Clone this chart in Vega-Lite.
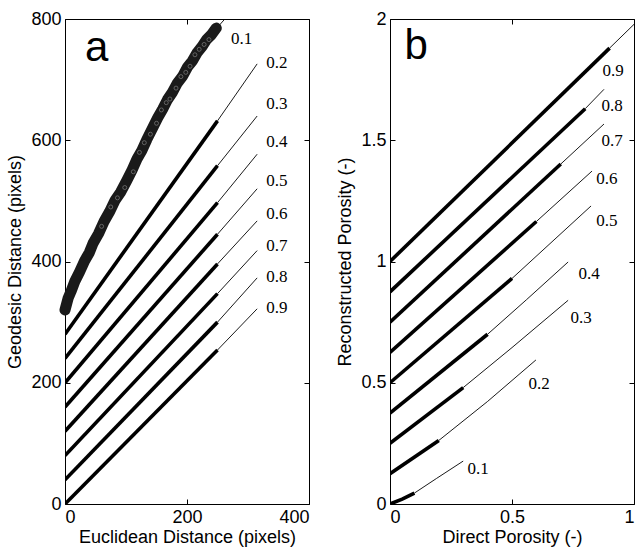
{
  "$schema": "https://vega.github.io/schema/vega-lite/v6.json",
  "padding": {"left": 6, "top": 9, "right": 0, "bottom": 0},
  "background": "white",
  "spacing": 26,
  "config": {
    "view": {"stroke": "black", "strokeWidth": 1},
    "axis": {
      "labelFont": "Liberation Sans", "titleFont": "Liberation Sans",
      "labelFontSize": 18, "titleFontSize": 18, "labelColor": "black", "titleColor": "black",
      "titleFontWeight": "normal", "grid": false, "domain": false,
      "tickColor": "black", "tickSize": -5, "labelPadding": 9
    }
  },
  "datasets": {
    "a_lines": [
      {"p": "0.2", "k": "thick", "x": 0, "y": 280}, {"p": "0.2", "k": "thick", "x": 250, "y": 632},
      {"p": "0.2", "k": "thin", "x": 250, "y": 632}, {"p": "0.2", "k": "thin", "x": 315, "y": 726},
      {"p": "0.3", "k": "thick", "x": 0, "y": 240}, {"p": "0.3", "k": "thick", "x": 250, "y": 558},
      {"p": "0.3", "k": "thin", "x": 250, "y": 558}, {"p": "0.3", "k": "thin", "x": 315, "y": 640},
      {"p": "0.4", "k": "thick", "x": 0, "y": 200}, {"p": "0.4", "k": "thick", "x": 250, "y": 497},
      {"p": "0.4", "k": "thin", "x": 250, "y": 497}, {"p": "0.4", "k": "thin", "x": 315, "y": 577},
      {"p": "0.5", "k": "thick", "x": 0, "y": 160}, {"p": "0.5", "k": "thick", "x": 250, "y": 445},
      {"p": "0.5", "k": "thin", "x": 250, "y": 445}, {"p": "0.5", "k": "thin", "x": 315, "y": 520},
      {"p": "0.6", "k": "thick", "x": 0, "y": 120}, {"p": "0.6", "k": "thick", "x": 250, "y": 396},
      {"p": "0.6", "k": "thin", "x": 250, "y": 396}, {"p": "0.6", "k": "thin", "x": 315, "y": 467},
      {"p": "0.7", "k": "thick", "x": 0, "y": 80}, {"p": "0.7", "k": "thick", "x": 250, "y": 347},
      {"p": "0.7", "k": "thin", "x": 250, "y": 347}, {"p": "0.7", "k": "thin", "x": 315, "y": 418},
      {"p": "0.8", "k": "thick", "x": 0, "y": 40}, {"p": "0.8", "k": "thick", "x": 250, "y": 300},
      {"p": "0.8", "k": "thin", "x": 250, "y": 300}, {"p": "0.8", "k": "thin", "x": 315, "y": 373},
      {"p": "0.9", "k": "thick", "x": 0, "y": 0}, {"p": "0.9", "k": "thick", "x": 250, "y": 254},
      {"p": "0.9", "k": "thin", "x": 250, "y": 254}, {"p": "0.9", "k": "thin", "x": 315, "y": 322},
      {"p": "0.1", "k": "thin", "x": 248, "y": 784}, {"p": "0.1", "k": "thin", "x": 262, "y": 800}
    ],
    "a_band": [
      {"x": 0, "y": 320}, {"x": 5, "y": 339}, {"x": 10, "y": 351}, {"x": 16, "y": 367}, {"x": 24, "y": 383},
      {"x": 32, "y": 401}, {"x": 40, "y": 415}, {"x": 46, "y": 430}, {"x": 55, "y": 446}, {"x": 64, "y": 466},
      {"x": 73, "y": 482}, {"x": 82, "y": 501}, {"x": 91, "y": 514}, {"x": 101, "y": 533}, {"x": 110, "y": 551},
      {"x": 118, "y": 569}, {"x": 126, "y": 583}, {"x": 134, "y": 601}, {"x": 144, "y": 621}, {"x": 152, "y": 637},
      {"x": 160, "y": 651}, {"x": 168, "y": 667}, {"x": 176, "y": 679}, {"x": 184, "y": 694}, {"x": 193, "y": 706},
      {"x": 201, "y": 721}, {"x": 209, "y": 731}, {"x": 217, "y": 745}, {"x": 225, "y": 755}, {"x": 232, "y": 766},
      {"x": 240, "y": 774}, {"x": 248, "y": 785}
    ],
    "a_speck": [
      {"x": 60, "y": 458}, {"x": 98, "y": 522}, {"x": 122, "y": 580}, {"x": 140, "y": 610}, {"x": 158, "y": 650},
      {"x": 172, "y": 668}, {"x": 190, "y": 705}, {"x": 205, "y": 722}, {"x": 220, "y": 750}, {"x": 236, "y": 766},
      {"x": 112, "y": 548}, {"x": 182, "y": 686}, {"x": 130, "y": 596}, {"x": 150, "y": 628}, {"x": 166, "y": 662},
      {"x": 198, "y": 712}, {"x": 213, "y": 741}, {"x": 228, "y": 758}, {"x": 86, "y": 505}, {"x": 75, "y": 490}
    ],
    "a_labels": [
      {"t": "0.1", "x": 272, "y": 767}, {"t": "0.2", "x": 330, "y": 728}, {"t": "0.3", "x": 330, "y": 660},
      {"t": "0.4", "x": 330, "y": 597}, {"t": "0.5", "x": 330, "y": 533}, {"t": "0.6", "x": 330, "y": 479},
      {"t": "0.7", "x": 330, "y": 426}, {"t": "0.8", "x": 330, "y": 375}, {"t": "0.9", "x": 330, "y": 323}
    ],
    "b_lines": [
      {"p": "0.1", "k": "thick", "x": 0, "y": 0}, {"p": "0.1", "k": "thick", "x": 0.05, "y": 0.02}, {"p": "0.1", "k": "thick", "x": 0.1, "y": 0.045},
      {"p": "0.1", "k": "thin", "x": 0.1, "y": 0.045}, {"p": "0.1", "k": "thin", "x": 0.19, "y": 0.105}, {"p": "0.1", "k": "thin", "x": 0.3, "y": 0.177},
      {"p": "0.2", "k": "thick", "x": 0, "y": 0.125}, {"p": "0.2", "k": "thick", "x": 0.2, "y": 0.262},
      {"p": "0.2", "k": "thin", "x": 0.2, "y": 0.262}, {"p": "0.2", "k": "thin", "x": 0.4, "y": 0.423}, {"p": "0.2", "k": "thin", "x": 0.598, "y": 0.594},
      {"p": "0.3", "k": "thick", "x": 0, "y": 0.25}, {"p": "0.3", "k": "thick", "x": 0.3, "y": 0.48},
      {"p": "0.3", "k": "thin", "x": 0.3, "y": 0.48}, {"p": "0.3", "k": "thin", "x": 0.5, "y": 0.645}, {"p": "0.3", "k": "thin", "x": 0.73, "y": 0.84},
      {"p": "0.4", "k": "thick", "x": 0, "y": 0.375}, {"p": "0.4", "k": "thick", "x": 0.4, "y": 0.7},
      {"p": "0.4", "k": "thin", "x": 0.4, "y": 0.7}, {"p": "0.4", "k": "thin", "x": 0.56, "y": 0.843}, {"p": "0.4", "k": "thin", "x": 0.73, "y": 0.998},
      {"p": "0.5", "k": "thick", "x": 0, "y": 0.5}, {"p": "0.5", "k": "thick", "x": 0.5, "y": 0.93},
      {"p": "0.5", "k": "thin", "x": 0.5, "y": 0.93}, {"p": "0.5", "k": "thin", "x": 0.824, "y": 1.229},
      {"p": "0.6", "k": "thick", "x": 0, "y": 0.625}, {"p": "0.6", "k": "thick", "x": 0.6, "y": 1.165},
      {"p": "0.6", "k": "thin", "x": 0.6, "y": 1.165}, {"p": "0.6", "k": "thin", "x": 0.828, "y": 1.373},
      {"p": "0.7", "k": "thick", "x": 0, "y": 0.75}, {"p": "0.7", "k": "thick", "x": 0.7, "y": 1.402},
      {"p": "0.7", "k": "thin", "x": 0.7, "y": 1.402}, {"p": "0.7", "k": "thin", "x": 0.877, "y": 1.567},
      {"p": "0.8", "k": "thick", "x": 0, "y": 0.875}, {"p": "0.8", "k": "thick", "x": 0.8, "y": 1.63},
      {"p": "0.8", "k": "thin", "x": 0.8, "y": 1.63}, {"p": "0.8", "k": "thin", "x": 0.877, "y": 1.71},
      {"p": "0.9", "k": "thick", "x": 0, "y": 1.0}, {"p": "0.9", "k": "thick", "x": 0.9, "y": 1.88},
      {"p": "0.9", "k": "thin", "x": 0.9, "y": 1.88}, {"p": "0.9", "k": "thin", "x": 1.0, "y": 1.978}
    ],
    "b_labels": [
      {"t": "0.9", "x": 0.914, "y": 1.786}, {"t": "0.8", "x": 0.91, "y": 1.64}, {"t": "0.7", "x": 0.91, "y": 1.497},
      {"t": "0.6", "x": 0.889, "y": 1.34}, {"t": "0.5", "x": 0.889, "y": 1.167}, {"t": "0.4", "x": 0.816, "y": 0.948},
      {"t": "0.3", "x": 0.783, "y": 0.767}, {"t": "0.2", "x": 0.611, "y": 0.495}, {"t": "0.1", "x": 0.361, "y": 0.144}
    ]
  },
  "hconcat": [
    {
      "width": 244, "height": 485,
      "resolve": {"axis": {"x": "independent", "y": "independent"}},
      "layer": [
        {
          "data": {"name": "a_lines"},
          "mark": {"type": "line", "color": "black", "clip": true},
          "encoding": {
            "x": {"field": "x", "type": "quantitative", "scale": {"domain": [0, 400], "nice": false, "zero": false},
                  "axis": {"orient": "bottom", "values": [0, 200, 400], "title": "Euclidean Distance (pixels)", "titlePadding": 2}},
            "y": {"field": "y", "type": "quantitative", "scale": {"domain": [0, 800], "nice": false, "zero": false},
                  "axis": {"orient": "left", "values": [0, 200, 400, 600, 800], "title": "Geodesic Distance (pixels)", "titlePadding": 6}},
            "detail": [{"field": "p"}, {"field": "k"}],
            "strokeWidth": {"field": "k", "type": "nominal", "scale": {"domain": ["thick", "thin"], "range": [3.6, 0.9]}, "legend": null}
          }
        },
        {
          "data": {"name": "a_band"},
          "mark": {"type": "line", "color": "#1a1a1a", "strokeWidth": 11, "strokeCap": "round", "strokeJoin": "round"},
          "encoding": {
            "x": {"field": "x", "type": "quantitative", "axis": null},
            "y": {"field": "y", "type": "quantitative", "axis": null}
          }
        },
        {
          "data": {"name": "a_speck"},
          "mark": {"type": "point", "shape": "circle", "filled": false, "color": "#999", "size": 16, "strokeWidth": 0.8},
          "encoding": {
            "x": {"field": "x", "type": "quantitative", "axis": null},
            "y": {"field": "y", "type": "quantitative", "axis": null}
          }
        },
        {
          "data": {"name": "a_labels"},
          "mark": {"type": "text", "font": "Liberation Serif", "fontSize": 17, "align": "left", "baseline": "middle", "color": "black"},
          "encoding": {
            "x": {"field": "x", "type": "quantitative", "axis": {"orient": "top", "values": [0, 200, 400], "labels": false, "title": null}},
            "y": {"field": "y", "type": "quantitative", "axis": {"orient": "right", "values": [0, 200, 400, 600, 800], "labels": false, "title": null}},
            "text": {"field": "t"}
          }
        },
        {
          "data": {"values": [{"t": "a", "x": 52, "y": 752}]},
          "mark": {"type": "text", "font": "Liberation Sans", "fontSize": 42, "align": "center", "baseline": "middle", "color": "black"},
          "encoding": {
            "x": {"field": "x", "type": "quantitative", "axis": null},
            "y": {"field": "y", "type": "quantitative", "axis": null},
            "text": {"field": "t"}
          }
        }
      ]
    },
    {
      "width": 244, "height": 485,
      "resolve": {"axis": {"x": "independent", "y": "independent"}},
      "layer": [
        {
          "data": {"name": "b_lines"},
          "mark": {"type": "line", "color": "black", "clip": true},
          "encoding": {
            "x": {"field": "x", "type": "quantitative", "scale": {"domain": [0, 1], "nice": false, "zero": false},
                  "axis": {"orient": "bottom", "values": [0, 0.5, 1], "format": "~g", "title": "Direct Porosity (-)", "titlePadding": 2}},
            "y": {"field": "y", "type": "quantitative", "scale": {"domain": [0, 2], "nice": false, "zero": false},
                  "axis": {"orient": "left", "values": [0, 0.5, 1, 1.5, 2], "format": "~g", "title": "Reconstructed Porosity (-)", "titlePadding": 6}},
            "detail": [{"field": "p"}, {"field": "k"}],
            "strokeWidth": {"field": "k", "type": "nominal", "scale": {"domain": ["thick", "thin"], "range": [3.6, 0.9]}, "legend": null}
          }
        },
        {
          "data": {"name": "b_labels"},
          "mark": {"type": "text", "font": "Liberation Serif", "fontSize": 17, "align": "center", "baseline": "middle", "color": "black"},
          "encoding": {
            "x": {"field": "x", "type": "quantitative", "axis": {"orient": "top", "values": [0, 0.5, 1], "labels": false, "title": null}},
            "y": {"field": "y", "type": "quantitative", "axis": {"orient": "right", "values": [0, 0.5, 1, 1.5, 2], "labels": false, "title": null}},
            "text": {"field": "t"}
          }
        },
        {
          "data": {"values": [{"t": "b", "x": 0.107, "y": 1.89}]},
          "mark": {"type": "text", "font": "Liberation Sans", "fontSize": 42, "align": "center", "baseline": "middle", "color": "black"},
          "encoding": {
            "x": {"field": "x", "type": "quantitative", "axis": null},
            "y": {"field": "y", "type": "quantitative", "axis": null},
            "text": {"field": "t"}
          }
        }
      ]
    }
  ]
}
